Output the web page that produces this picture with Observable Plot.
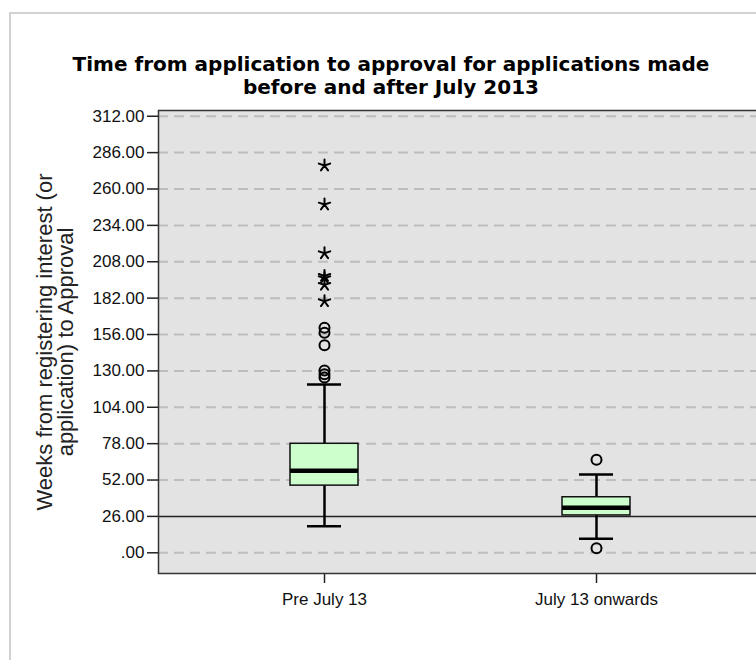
<!DOCTYPE html>
<html>
<head>
<meta charset="utf-8">
<script src="https://cdn.jsdelivr.net/npm/d3@7"></script>
<script src="https://cdn.jsdelivr.net/npm/@observablehq/plot@0.6"></script>
<style>
html, body { margin: 0; padding: 0; background: #fff; overflow: hidden; }
#page { position: relative; width: 756px; height: 660px; overflow: hidden; background: #fff; font-family: "Liberation Sans", Arial, sans-serif; }
#border { position: absolute; left: 9px; top: 12px; right: -10px; bottom: -10px; border-top: 2px solid #d2d2d2; border-left: 2px solid #d2d2d2; }
#title { position: absolute; left: 0; width: 782px; top: 52.5px; text-align: center; font-family: "DejaVu Sans", sans-serif; font-weight: bold; font-size: 20px; line-height: 23.5px; color: #000; }
#ylabel { position: absolute; left: 55px; top: 342px; transform: translate(-50%, -50%) rotate(-90deg); white-space: nowrap; text-align: center; font-size: 22px; line-height: 21px; color: #222; }
#chart { position: absolute; left: 0; top: 100px; width: 762px; }
#chart svg { max-width: none !important; }
</style>
</head>
<body>
<div id="page">
  <div id="border"></div>
  <div id="title">Time from application to approval for applications made<br>before and after July 2013</div>
  <div id="ylabel">Weeks from registering interest (or<br>application) to Approval</div>
  <div id="chart"></div>
</div>
<script>
// Categories
const groups = ["Pre July 13", "July 13 onwards"];
// Box statistics (weeks)
const q1 = [48, 26.7];
const median = [58.6, 32.2];
const q3 = [77.9, 39.7];
const whiskerLow = [19, 10];
const whiskerHigh = [120.3, 56];
// Outliers (circles) and extremes (asterisks)
const outliersPre = [160.8, 157.2, 148.4, 130.3, 127.6, 125.2];
const outliersPost = [66.5, 3.3];
const extremesPre = [276.8, 248.9, 214.1, 197.9, 196.3, 191.5, 179.8];
// Axis ticks
const yTicks = [0, 26, 52, 78, 104, 130, 156, 182, 208, 234, 260, 286, 312];
const yTickLabels = [".00", "26.00", "52.00", "78.00", "104.00", "130.00", "156.00", "182.00", "208.00", "234.00", "260.00", "286.00", "312.00"];
const refLine = 26;

const boxes = groups.map((g, i) => ({group: g, q1: q1[i], median: median[i], q3: q3[i], low: whiskerLow[i], high: whiskerHigh[i]}));
const outliers = [
  ...outliersPre.map(v => ({group: groups[0], value: v})),
  ...outliersPost.map(v => ({group: groups[1], value: v}))
];
const extremes = extremesPre.map(v => ({group: groups[0], value: v}));
const gridTicks = yTicks.filter(t => t !== refLine);

// five-armed asterisk symbol (SPSS extreme marker)
const asterisk5 = {
  draw(context, size) {
    const r = Math.sqrt(size / Math.PI);
    for (let k = 0; k < 5; k++) {
      const a = -Math.PI / 2 + k * 2 * Math.PI / 5;
      context.moveTo(0, 0);
      context.lineTo(r * Math.cos(a), r * Math.sin(a));
    }
  }
};

const chart = Plot.plot({
  width: 762,
  height: 523,
  marginLeft: 158,
  marginRight: 0,
  marginTop: 10,
  marginBottom: 50,
  style: {fontFamily: "'Liberation Sans', Arial, sans-serif", fontSize: "17px", background: "transparent", color: "#111", overflow: "visible"},
  x: {type: "band", domain: groups, paddingInner: 0.75, paddingOuter: 0.485, align: 0.5, label: null},
  y: {domain: [-14.8, 316.1], label: null},
  marks: [
    Plot.frame({fill: "#e3e3e3"}),
    Plot.gridY(gridTicks, {stroke: "#bdbdbd", strokeOpacity: 1, strokeWidth: 2, strokeDasharray: "10,6"}),
    Plot.ruleY([refLine], {stroke: "#222", strokeWidth: 1.5}),
    Plot.ruleX(boxes, {x: "group", y1: "low", y2: "high", stroke: "#000", strokeWidth: 2.5}),
    Plot.tickY(boxes, {x: "group", y: "low", insetLeft: 17, insetRight: 17, stroke: "#000", strokeWidth: 2.5}),
    Plot.tickY(boxes, {x: "group", y: "high", insetLeft: 17, insetRight: 17, stroke: "#000", strokeWidth: 2.5}),
    Plot.barY(boxes, {x: "group", y1: "q1", y2: "q3", fill: "#ccffcc", stroke: "#111", strokeWidth: 1.5}),
    Plot.tickY(boxes, {x: "group", y: "median", stroke: "#000", strokeWidth: 4.5}),
    Plot.dot(outliers, {x: "group", y: "value", r: 5, stroke: "#000", strokeWidth: 2, fill: "none"}),
    Plot.dot(extremes, {x: "group", y: "value", r: 6, symbol: asterisk5, stroke: "#000", strokeWidth: 2, strokeLinecap: "round", fill: "none"}),
    Plot.axisY(yTicks, {tickSize: 11, tickPadding: 3, tickFormat: (d) => yTickLabels[yTicks.indexOf(d)], label: null, stroke: "#222", strokeWidth: 1.5}),
    Plot.axisX({tickSize: 10, tickPadding: 9, label: null, stroke: "#222", strokeWidth: 1.5}),
    Plot.frame({stroke: "#333", strokeWidth: 1.5})
  ]
});
document.getElementById("chart").appendChild(chart);
</script>
</body>
</html>
